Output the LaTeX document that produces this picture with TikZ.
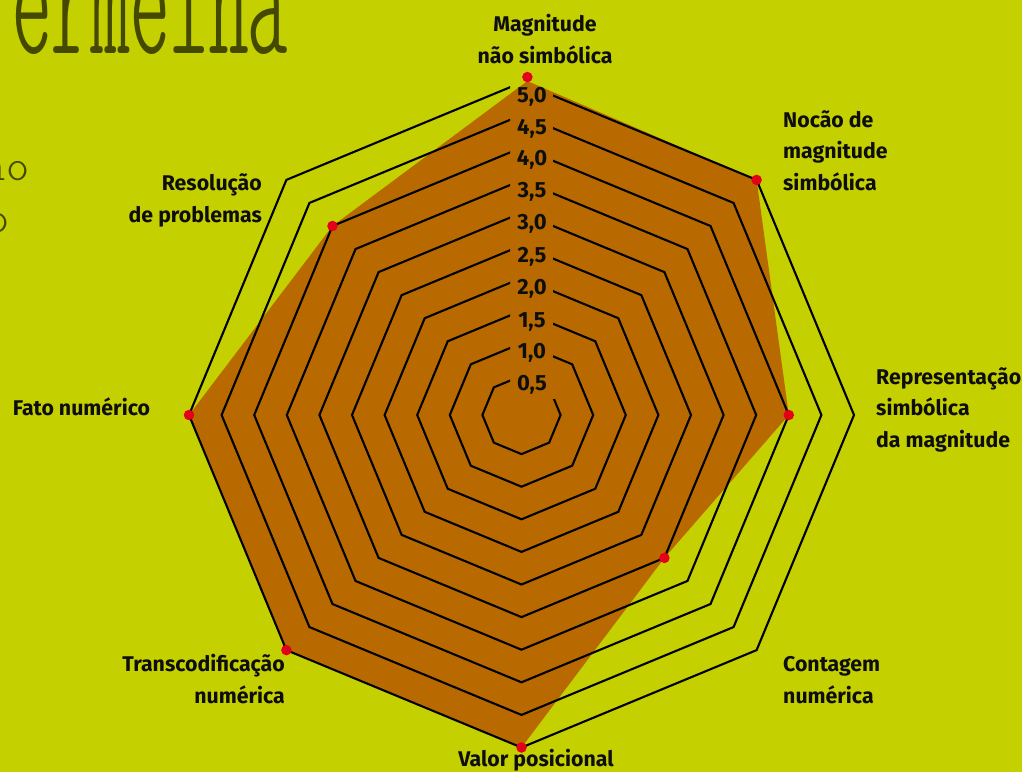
\documentclass[tikz,border=0pt]{standalone}
\usepackage{fontspec}
\setmainfont{Fira Sans}
\usepackage{graphicx}
\definecolor{bgc}{RGB}{196,208,0}
\definecolor{fillc}{RGB}{184,106,0}
\definecolor{dotc}{RGB}{228,0,24}
\definecolor{txtc}{RGB}{14,14,14}
\colorlet{decoc}{bgc!35!black}
\newcommand\lightfnt{\ttfamily\fontseries{l}\selectfont}
\newcommand\lightcfnt{\ttfamily\fontseries{lc}\selectfont}
\begin{document}
\begin{tikzpicture}[x=1pt,y=-1pt,
  ring/.style={line width=2.1pt, draw=black, line join=miter},
  axlabel/.style={font=\fontsize{21.3}{31.5}\selectfont\bfseries, text=txtc, inner sep=0pt},
  numlabel/.style={font=\fontsize{22}{22}\selectfont\bfseries, text=txtc, inner sep=0pt, anchor=base},
  datadot/.style={circle, fill=dotc, minimum size=10.5pt, inner sep=0pt},
  deco/.style={inner sep=0pt, text=decoc}
]
\path[use as bounding box, fill=bgc] (0,0) rectangle (1022,772);

% decorative cut-off text at the top left
\node[deco, anchor=base west, font=\lightcfnt\fontsize{150}{150}\selectfont] (title) at (12,53)
  {\scalebox{0.75}[1.15]{ermelha}};
\node[deco, anchor=center, font=\lightfnt\fontsize{44}{44}\selectfont] (o1) at (6,171) {no};
\node[deco, anchor=center, font=\lightfnt\fontsize{44}{44}\selectfont] (o2) at (-2,223) {o};

% data polygon
\begin{scope}[shift={(521.5,415)}]
  \fill[fillc] (-89:334) -- (-45:332.5) -- (0:267.3) -- (45:202.1) -- (90:332.5)
     -- (135:332.5) -- (180:332.5) -- (-135:267.3) -- cycle;
\end{scope}

% rings, with gaps behind the scale labels
\begin{scope}
  \clip (0,0) -- (1022,0) -- (1022,772) -- (0,772) -- cycle
    (510,369) -- (510,399) -- (555,399) -- (555,369) -- cycle
    \foreach \py in {351,320,287,255,222,190,158,127,95}
      {(510,\py-14) -- (510,\py+12) -- (553,\py+12) -- (553,\py-14) -- cycle};
  \begin{scope}[shift={(521.5,415)}]
    \foreach \k in {1,...,10}{
      \pgfmathsetmacro\r{6.5+32.6*\k}
      \draw[ring] (-90:\r) -- (-45:\r) -- (0:\r) -- (45:\r) -- (90:\r)
        -- (135:\r) -- (180:\r) -- (-135:\r) -- cycle;
    }
  \end{scope}
\end{scope}

% scale labels
\node[numlabel] (s05) at (532,390.5) {0,5};
\node[numlabel] (s10) at (532,358.5) {1,0};
\node[numlabel] (s15) at (532,327.5) {1,5};
\node[numlabel] (s20) at (532,294.5) {2,0};
\node[numlabel] (s25) at (532,262.5) {2,5};
\node[numlabel] (s30) at (532,229.5) {3,0};
\node[numlabel] (s35) at (532,197.5) {3,5};
\node[numlabel] (s40) at (532,165.5) {4,0};
\node[numlabel] (s45) at (532,134.5) {4,5};
\node[numlabel] (s50) at (532,102.5) {5,0};

% data dots
\begin{scope}[shift={(521.5,415)}]
  \node[datadot] (d1) at (-89:338) {};
  \node[datadot] (d2) at (-45:332.5) {};
  \node[datadot] (d3) at (0:267.3) {};
  \node[datadot] (d4) at (45:202.1) {};
  \node[datadot] (d5) at (90:332.5) {};
  \node[datadot] (d6) at (135:332.5) {};
  \node[datadot] (d7) at (180:332.5) {};
  \node[datadot] (d8) at (-135:267.3) {};
\end{scope}

% axis labels (base anchor = baseline of the last line)
\node[axlabel, align=center, anchor=base] (a1) at (545,63) {Magnitude\\não simbólica};
\node[axlabel, align=left, anchor=base west] (a2) at (783,190) {Nocão de\\magnitude\\simbólica};
\node[axlabel, align=left, anchor=base west] (a3) at (876,447) {Representação\\simbólica\\da magnitude};
\node[axlabel, align=left, anchor=base west] (a4) at (783,703) {Contagem\\numérica};
\node[axlabel, anchor=base] (a5) at (536,766) {Valor posicional};
\node[axlabel, align=right, anchor=base east] (a6) at (285,703) {Transcodificação\\numérica};
\node[axlabel, anchor=base west] (a7) at (12.7,415) {Fato numérico};
\node[axlabel, align=right, anchor=base east] (a8) at (262,222) {Resolução\\de problemas};
\end{tikzpicture}
\end{document}
